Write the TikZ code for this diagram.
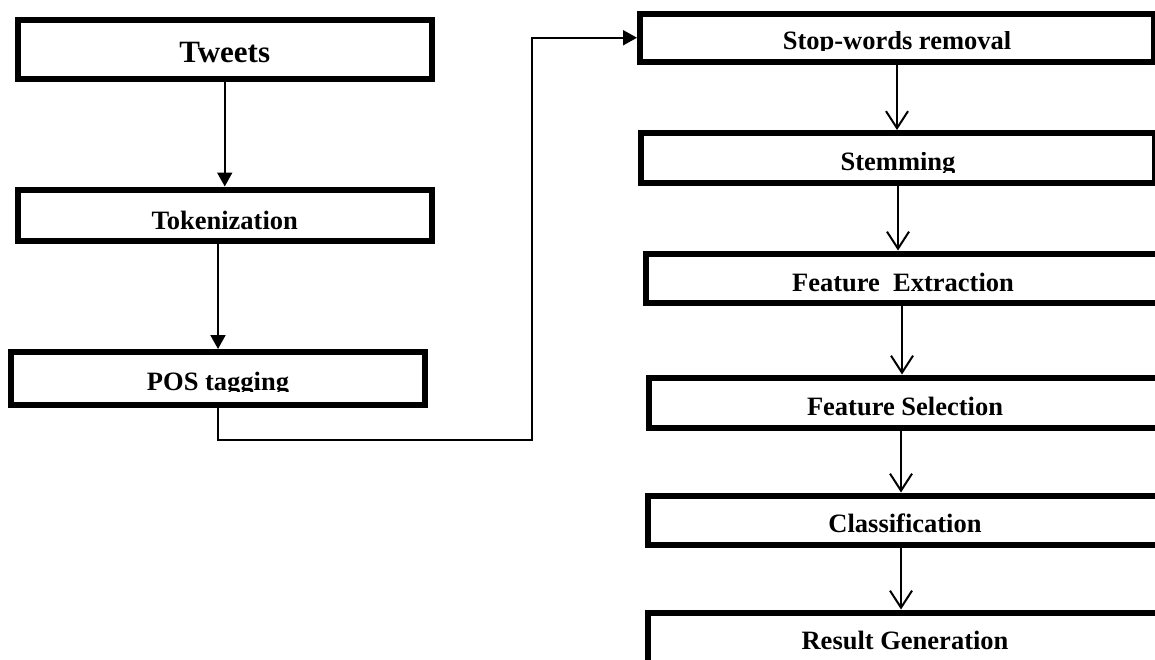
\documentclass[tikz,border=0pt]{standalone}
\usepackage{fontspec}
\setmainfont{Liberation Serif}
\usepackage{trimclip}
\usetikzlibrary{arrows.meta}
% text whose descenders are cut off by the box
\newcommand{\CutText}[1]{\clipbox{0pt 4.5pt 0pt 0pt}{#1}}
\tikzset{
  stage/.style={draw, line width=6pt, inner sep=0pt, text depth=0pt,
    font=\bfseries\fontsize{26.5}{30}\selectfont},
  flow/.style={line width=2pt, -{Triangle[length=14pt,width=15pt]}},
  link/.style={line width=2pt, -{Straight Barb[length=17pt,width=22pt]}}
}

\begin{document}
\begin{tikzpicture}[x=1pt,y=-1pt]

\useasboundingbox (0,0) rectangle (1155,659);

% ---------------- left column ----------------
\node[stage, minimum width=413.5pt, minimum height=59pt, text height=26pt,
  font=\bfseries\fontsize{31}{36}\selectfont] (tweets) at (224.75,49) {Tweets};
\node[stage, minimum width=413.5pt, minimum height=51.5pt, text height=29pt]
  (token) at (224.75,215.25) {Tokenization};
\node[stage, minimum width=414pt, minimum height=53pt, text height=23pt]
  (pos) at (218,378.5) {\CutText{POS tagging}};

% ---------------- right column ----------------
\node[stage, minimum width=514pt, minimum height=47.5pt, text height=24pt]
  (stopw) at (897,37.75) {\CutText{Stop-words removal}};
\node[stage, minimum width=514pt, minimum height=49.5pt, text height=26pt]
  (stem) at (898,157.75) {\CutText{Stemming}};
\node[stage, minimum width=515pt, minimum height=49pt, text height=26.6pt]
  (featx) at (903,278) {Feature~~Extraction};
\node[stage, minimum width=513pt, minimum height=50pt, text height=25.6pt]
  (featsel) at (905,402.5) {Feature Selection};
\node[stage, minimum width=514pt, minimum height=49pt, text height=24.6pt]
  (classif) at (905,520) {Classification};
\node[stage, minimum width=514pt, minimum height=50pt, text height=23.6pt]
  (result) at (905,637.5) {Result Generation};

% ---------------- connectors ----------------
\draw[flow] (tweets.south) -- (token.north);
\draw[flow] (token.south -| pos.north) -- (pos.north);

% bend from the bottom of the left column up to the top of the right one
\coordinate (turn) at (532,440);
\draw[flow] (pos.south) |- (turn) |- (stopw.west);

\draw[link] (stopw.south) -- (stopw.south |- stem.north);
\draw[link] (stem.south) -- (stem.south |- featx.north);
\draw[link] ([xshift=-1pt]featx.south) -- ([xshift=-1pt]featx.south |- featsel.north);
\draw[link] ([xshift=-4pt]featsel.south) -- ([xshift=-4pt]featsel.south |- classif.north);
\draw[link] ([xshift=-4pt]classif.south) -- ([xshift=-4pt]classif.south |- result.north);

\end{tikzpicture}
\end{document}
